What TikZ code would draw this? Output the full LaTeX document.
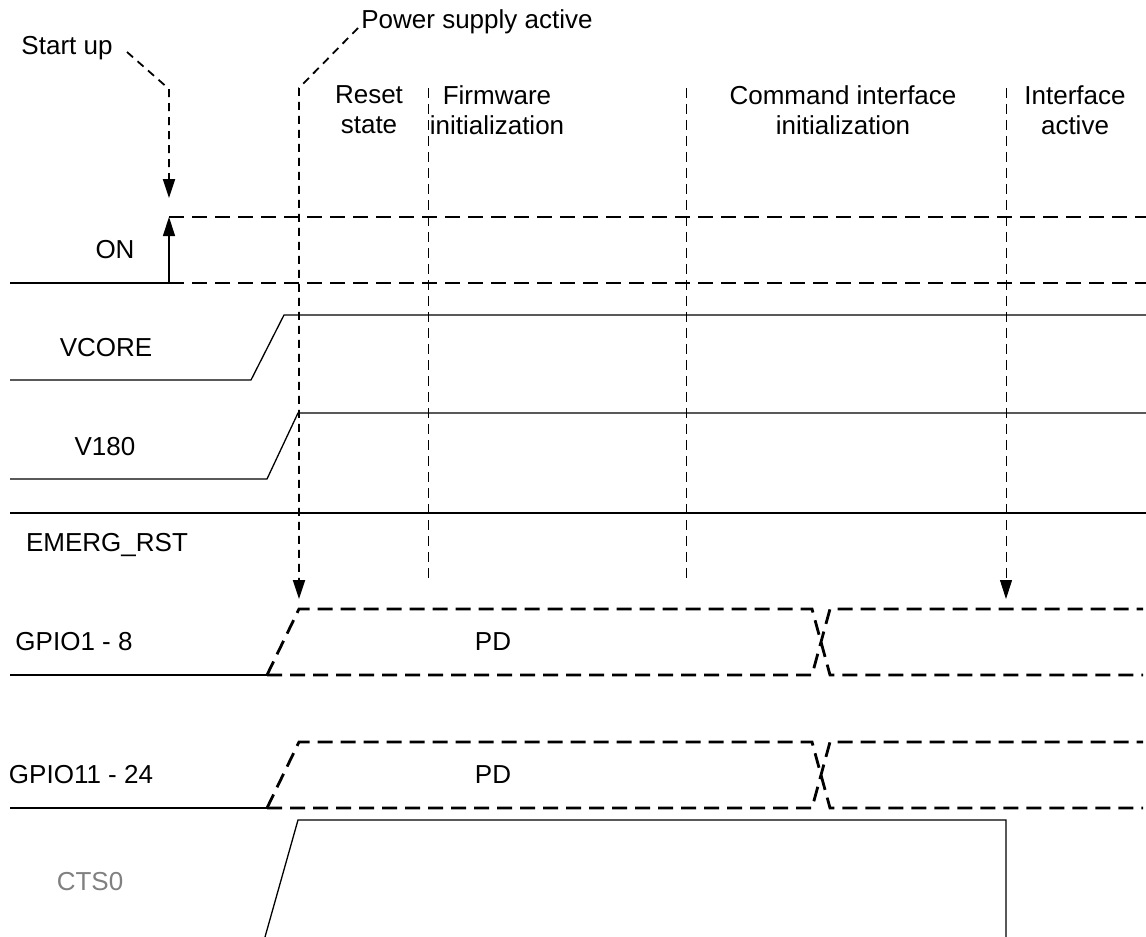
\documentclass[tikz,border=0pt]{standalone}
\usepackage{fontspec}
\setmainfont{Liberation Sans}
\usetikzlibrary{arrows.meta}
\definecolor{labelgray}{HTML}{808080}
\tikzset{
  sig/.style={line width=0.65pt},
  bus/.style={line width=1.4pt,dash pattern=on 7.5pt off 4pt},
  phase/.style={line width=0.5pt,dash pattern=on 5pt off 3pt},
  marker/.style={line width=0.9pt,dash pattern=on 4pt off 3pt},
  tip/.style={-{Triangle[length=9.5pt,width=6pt]}},
  lbl/.style={font=\fontsize{13}{15}\selectfont,inner sep=0pt},
  phaselbl/.style={lbl,align=center}
}

\begin{document}
\begin{tikzpicture}[x=0.5pt,y=-0.5pt]
  \useasboundingbox (0,0) rectangle (1146,937);
  \node[lbl] (startup) at (67,48) {Start up};
  \node[lbl,anchor=west] (power) at (361,22) {Power supply active};
  \node[phaselbl] (reset) at (369,110) {Reset\\state};
  \node[phaselbl] (firmware) at (497,110) {Firmware\\initialization};
  \node[phaselbl] (cmdinit) at (843,110) {Command interface\\initialization};
  \node[phaselbl] (active) at (1075,110) {Interface\\active};
  \node[lbl] (on) at (115,250) {ON};
  \node[lbl] (vcore) at (106,348) {VCORE};
  \node[lbl] (v180) at (105,447) {V180};
  \node[lbl] (emerg) at (107,545) {EMERG\_RST};
  \node[lbl] (gpioa) at (74,642) {GPIO1 - 8};
  \node[lbl] (pda) at (493,642) {PD};
  \node[lbl] (gpiob) at (81,775) {GPIO11 - 24};
  \node[lbl] (pdb) at (493,775) {PD};
  \node[lbl,text=labelgray] (cts) at (90,882) {CTS0};

  \coordinate (startfrom) at (127,52);
  \coordinate (startknee) at (169,89);
  \coordinate (startto) at (169,198);
  \coordinate (powerfrom) at (358,28);
  \coordinate (powerknee) at (299,88);
  \coordinate (powerto) at (299,599);
  \coordinate (onlow) at (169,283);
  \coordinate (onhigh) at (169,217);
  \coordinate (activetop) at (1006,88);
  \coordinate (activeto) at (1006,599);

  \draw[marker,tip] (startfrom) -- (startknee) -- (startto);
  \draw[marker,tip] (powerfrom) -- (powerknee) -- (powerto);
  \draw[phase] (428,88) -- (428,578);
  \draw[phase] (686,88) -- (686,578);
  \draw[phase,tip] (activetop) -- (activeto);

  \draw[sig] (10,283) -- (onlow);
  \draw[sig,tip] (onlow) -- (onhigh);
  \draw[bus] (onhigh) -- (1146,217);
  \draw[bus] (onlow) -- (1146,283);

  \draw[sig] (10,380) -- (251,380) -- (284,315) -- (1146,315);
  \draw[sig] (10,479) -- (267,479) -- (298,413) -- (1146,413);
  \draw[sig] (10,513) -- (1146,513);

  \foreach \hi/\lo in {609/675,742/808}{
    \draw[sig] (10,\lo) -- (267,\lo);
    \draw[bus] (267,\lo) -- (299,\hi) -- (812,\hi) -- (830,\lo) -- (1143,\lo);
    \draw[bus] (267,\lo) -- (812,\lo) -- (830,\hi) -- (1143,\hi);
  }

  \draw[sig] (265,937) -- (298,820) -- (1006,820) -- (1006,937);
\end{tikzpicture}
\end{document}
